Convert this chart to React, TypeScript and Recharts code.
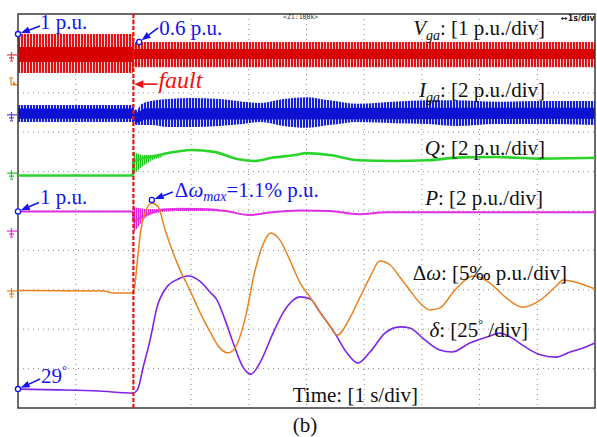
import React from 'react';
import {
  ComposedChart,
  Line,
  Area,
  XAxis,
  YAxis,
  CartesianGrid,
  ReferenceLine,
  ReferenceArea,
  ReferenceDot,
} from 'recharts';

// Scope screen: x in seconds (1 s/div), y in divisions counted from the bottom edge.
const GRID_X = [1, 2, 3, 4, 5, 6, 7, 8, 9];
const GRID_Y = [1, 2, 3, 4, 5, 6, 7, 8, 9];
const FAULT_T = 2;

// V_ga envelope (dense 50 Hz sine shown as a band)
const VGA_T = [0, 1.99, 2.0, 10];
const VGA_HI = [9.49, 9.49, 9.29, 9.29];
const VGA_LO = [8.5, 8.5, 8.65, 8.65];
const VGA_CORE_HI = [9.16, 9.16, 9.11, 9.11];
const VGA_CORE_LO = [8.78, 8.78, 8.86, 8.86];

// I_ga envelope
const IGA_T = [0, 1.99, 2.05, 2.15, 2.3, 2.6, 3.0, 3.5, 3.9, 4.2, 4.6, 5.0, 5.4, 5.9, 6.5, 7.1, 7.6, 8.3, 9.0, 10];
const IGA_HI = [7.69, 7.69, 7.56, 7.72, 7.79, 7.84, 7.87, 7.84, 7.77, 7.74, 7.84, 7.89, 7.81, 7.72, 7.77, 7.81, 7.81, 7.77, 7.79, 7.79];
const IGA_LO = [7.26, 7.26, 7.18, 7.18, 7.18, 7.13, 7.13, 7.16, 7.21, 7.26, 7.16, 7.11, 7.18, 7.26, 7.23, 7.21, 7.16, 7.21, 7.21, 7.18];
const IGA_CORE_T = [0, 1.99, 2.05, 2.2, 10];
const IGA_CORE_HI = [7.6, 7.6, 7.49, 7.61, 7.62];
const IGA_CORE_LO = [7.34, 7.34, 7.23, 7.32, 7.34];

// Q
const Q_T = [0, 1.99, 2.0, 2.1, 2.3, 2.6, 3.0, 3.4, 3.8, 4.1, 4.4, 4.8, 5.0, 5.4, 5.9, 6.5, 7.1, 7.7, 8.3, 9.0, 10];
const Q_V = [5.9, 5.9, 6.24, 6.32, 6.37, 6.47, 6.55, 6.5, 6.32, 6.27, 6.35, 6.42, 6.47, 6.42, 6.29, 6.27, 6.29, 6.36, 6.37, 6.33, 6.35];
const Q_OSC_T = [2.0, 2.05, 2.15, 2.3, 2.5];
const Q_OSC_LO = [5.94, 5.99, 6.12, 6.27, 6.37];
const Q_OSC_HI = [6.5, 6.47, 6.42, 6.42, 6.45];

// P
const P_T = [0, 1.99, 2.0, 2.1, 2.25, 2.5, 3.0, 3.6, 4.0, 4.4, 4.9, 5.4, 5.9, 6.4, 7.0, 8.0, 9.0, 10];
const P_V = [4.99, 4.99, 4.72, 4.82, 4.92, 5.03, 5.05, 5.0, 4.9, 4.97, 5.01, 5.0, 4.92, 4.97, 4.97, 4.97, 4.97, 4.97];
const P_OSC_T = [2.0, 2.07, 2.2, 2.4, 2.8, 3.5];
const P_OSC_LO = [4.47, 4.57, 4.82, 4.95, 5.0, 5.0];
const P_OSC_HI = [5.1, 5.08, 5.05, 5.05, 5.08, 5.05];

// Δω
const DW_T = [0, 1.5, 1.65, 1.99, 2.03, 2.07, 2.13, 2.2, 2.32, 2.43, 2.55, 2.67, 2.81, 2.98, 3.15, 3.33, 3.5, 3.64, 3.76, 3.93, 4.11, 4.28, 4.38, 4.54, 4.71, 4.89, 5.06, 5.23, 5.41, 5.53, 5.75, 5.93, 6.1, 6.27, 6.45, 6.62, 6.79, 6.97, 7.14, 7.31, 7.57, 7.89, 8.18, 8.44, 8.75, 9.05, 9.31, 9.45, 9.65, 10];
const DW_V = [2.98, 2.97, 2.92, 2.92, 3.17, 3.76, 4.52, 4.95, 5.2, 5.1, 4.52, 4.01, 3.5, 2.99, 2.44, 1.93, 1.52, 1.4, 1.52, 2.23, 3.5, 4.26, 4.44, 4.26, 3.76, 3.17, 2.82, 2.44, 2.08, 1.85, 2.28, 2.82, 3.32, 3.73, 3.63, 3.32, 2.99, 2.66, 2.49, 2.54, 2.99, 3.35, 3.17, 2.82, 2.56, 2.74, 3.07, 3.25, 3.2, 3.02];

// δ
const D_T = [0, 0.7, 1.4, 1.99, 2.07, 2.17, 2.29, 2.41, 2.58, 2.77, 2.95, 3.15, 3.33, 3.45, 3.59, 3.73, 3.88, 4.04, 4.19, 4.42, 4.59, 4.77, 4.89, 5.06, 5.23, 5.49, 5.7, 5.89, 6.1, 6.36, 6.62, 6.79, 7.05, 7.31, 7.52, 7.83, 8.18, 8.35, 8.53, 8.79, 9.05, 9.31, 9.57, 9.84, 10];
const D_V = [0.48, 0.46, 0.43, 0.38, 0.46, 1.04, 1.73, 2.56, 3.07, 3.27, 3.35, 3.22, 2.94, 2.74, 2.23, 1.65, 1.09, 0.86, 1.14, 1.9, 2.41, 2.74, 2.82, 2.77, 2.44, 1.9, 1.4, 1.14, 1.42, 1.9, 2.06, 2.03, 1.73, 1.47, 1.42, 1.65, 1.83, 1.9, 1.8, 1.55, 1.35, 1.29, 1.42, 1.55, 1.65];

// channel ground markers on the left edge (divisions)
const GROUND_LEVELS = [8.91, 7.39, 5.91, 4.44, 2.92];
const GROUND_COLORS = ['#e04040', '#5a40e0', '#30c030', '#e030e0', '#e8831f'];
const TRIGGER_LEVEL = 8.25;

const RED = '#d80000';
const BLUE = '#0b12d2';
const GREEN = '#2bd42b';
const MAGENTA = '#e22ee2';
const ORANGE = '#e8831f';
const PURPLE = '#7f25e6';
const NOTE = '#1414ee';
const FAULT = '#ee1111';
const SERIF = '"Liberation Serif", "Times New Roman", serif';

const bandRows = (t: number[], lo: number[], hi: number[]) =>
  t.map((x, i) => ({ t: x, band: [lo[i], hi[i]] }));
const lineRows = (t: number[], v: number[]) => t.map((x, i) => ({ t: x, v: v[i] }));

function Arrow({ x1, y1, x2, y2, color, head = 9, half = 3.5 }: any) {
  const dx = x2 - x1;
  const dy = y2 - y1;
  const len = Math.hypot(dx, dy) || 1;
  const ux = dx / len;
  const uy = dy / len;
  const bx = x2 - ux * head;
  const by = y2 - uy * head;
  const px = -uy * half;
  const py = ux * half;
  return (
    <g>
      <line x1={x1} y1={y1} x2={bx} y2={by} stroke={color} strokeWidth={1.6} />
      <polygon points={`${x2},${y2} ${bx + px},${by + py} ${bx - px},${by - py}`} fill={color} />
    </g>
  );
}

// circle on the trace, arrow from the text towards it
const callout = (tail: [number, number], textAt: [number, number], content: React.ReactNode) =>
  (p: any) => {
    const { cx, cy } = p;
    const tx = cx + tail[0];
    const ty = cy + tail[1];
    const len = Math.hypot(tail[0], tail[1]);
    return (
      <g>
        <Arrow x1={tx} y1={ty} x2={cx + (tail[0] / len) * 3} y2={cy + (tail[1] / len) * 3} color={NOTE} />
        <circle cx={cx} cy={cy} r={2.6} fill="#fff" stroke={NOTE} strokeWidth={1.3} />
        <text x={cx + textAt[0]} y={cy + textAt[1]} fill={NOTE} fontFamily={SERIF} fontSize={21}>
          {content}
        </text>
      </g>
    );
  };

const groundShape = (color: string) => (p: any) => {
  const { cx, cy } = p;
  return (
    <g stroke={color} strokeWidth={1.2} fill="none">
      <line x1={cx - 11} y1={cy - 2} x2={cx - 1} y2={cy - 2} />
      <line x1={cx - 6.5} y1={cy - 5} x2={cx - 6.5} y2={cy + 3} />
      <line x1={cx - 9} y1={cy + 1} x2={cx - 4} y2={cy + 1} />
      <line x1={cx - 8} y1={cy + 4} x2={cx - 5} y2={cy + 4} />
    </g>
  );
};

const triggerShape = (p: any) => {
  const { cx, cy } = p;
  return (
    <g stroke={ORANGE} fill={ORANGE} strokeWidth={1.2}>
      <line x1={cx - 7} y1={cy - 5} x2={cx - 7} y2={cy + 2} />
      <line x1={cx - 9} y1={cy - 5} x2={cx - 5} y2={cy - 5} />
      <line x1={cx - 7} y1={cy + 2} x2={cx - 1} y2={cy + 2} />
      <polygon points={`${cx - 5},${cy - 2} ${cx - 1},${cy + 2} ${cx - 5},${cy + 2}`} stroke="none" />
    </g>
  );
};

const faultShape = (p: any) => {
  const { cx, cy } = p;
  return (
    <g>
      <Arrow x1={cx + 24} y1={cy} x2={cx + 1} y2={cy} color={FAULT} head={9} half={4} />
      <text x={cx + 25} y={cy + 4} fill={FAULT} fontFamily={SERIF} fontStyle="italic" fontSize={24}>
        fault
      </text>
    </g>
  );
};

function ScopeLabels() {
  const base = { fontFamily: SERIF, fontSize: 21, fill: '#111', textAnchor: 'end' as const };
  return (
    <svg width={597} height={437} style={{ position: 'absolute', left: 0, top: 0, pointerEvents: 'none' }}>
      <text {...base} x={545} y={35}>
        <tspan fontStyle="italic">V</tspan>
        <tspan fontStyle="italic" fontSize={14} dy={5}>ga</tspan>
        <tspan dy={-5}>: [1 p.u./div]</tspan>
      </text>
      <text {...base} x={545} y={97}>
        <tspan fontStyle="italic">I</tspan>
        <tspan fontStyle="italic" fontSize={14} dy={5}>ga</tspan>
        <tspan dy={-5}>: [2 p.u./div]</tspan>
      </text>
      <text {...base} x={545} y={155}>
        <tspan fontStyle="italic">Q</tspan>
        <tspan>: [2 p.u./div]</tspan>
      </text>
      <text {...base} x={543} y={205}>
        <tspan fontStyle="italic">P</tspan>
        <tspan>: [2 p.u./div]</tspan>
      </text>
      <text {...base} x={567} y={280}>
        <tspan>Δ</tspan>
        <tspan fontStyle="italic">ω</tspan>
        <tspan>: [5‰ p.u./div]</tspan>
      </text>
      <text {...base} x={528} y={337}>
        <tspan fontStyle="italic">δ</tspan>
        <tspan>: [25</tspan>
        <tspan fontSize={12} dy={-9}>°</tspan>
        <tspan dy={9}> /div]</tspan>
      </text>
      <text {...base} x={418} y={402}>Time: [1 s/div]</text>
      <text {...base} textAnchor="middle" x={305} y={432}>(b)</text>
      <text x={283} y={19} fontFamily="DejaVu Sans Mono, monospace" fontSize={6.5} fill="#333">
        {'<Z1:100k>'}
      </text>
      <text x={561} y={21} fontFamily="DejaVu Sans, sans-serif" fontSize={8} fontWeight="bold" fill="#222">
        ↔1s/div
      </text>
    </svg>
  );
}

export default function App() {
  const vga = bandRows(VGA_T, VGA_LO, VGA_HI);
  const vgaCore = bandRows(VGA_T, VGA_CORE_LO, VGA_CORE_HI);
  const iga = bandRows(IGA_T, IGA_LO, IGA_HI);
  const igaCore = bandRows(IGA_CORE_T, IGA_CORE_LO, IGA_CORE_HI);
  const qOsc = bandRows(Q_OSC_T, Q_OSC_LO, Q_OSC_HI);
  const pOsc = bandRows(P_OSC_T, P_OSC_LO, P_OSC_HI);

  return (
    <div style={{ position: 'absolute', left: 0, top: 0, width: 597, height: 437, background: '#fff' }}>
      <ComposedChart width={597} height={437} margin={{ top: 14, right: 2, bottom: 29, left: 18 }}>
        <defs>
          <pattern id="redStripe" width="3" height="6" patternUnits="userSpaceOnUse">
            <rect width="3" height="6" fill="#f8d0d0" />
            <rect width="2" height="6" fill="#e01414" />
          </pattern>
          <pattern id="blueStripe" width="3" height="6" patternUnits="userSpaceOnUse">
            <rect width="3" height="6" fill="#d6daff" />
            <rect width="2" height="6" fill="#1420d8" />
          </pattern>
          <pattern id="greenStripe" width="2" height="6" patternUnits="userSpaceOnUse">
            <rect width="2" height="6" fill="#c8f5c8" />
            <rect width="1.2" height="6" fill="#1cc41c" />
          </pattern>
          <pattern id="magentaStripe" width="2" height="6" patternUnits="userSpaceOnUse">
            <rect width="2" height="6" fill="#f8c8f8" />
            <rect width="1.2" height="6" fill="#e020e0" />
          </pattern>
        </defs>
        <XAxis dataKey="t" type="number" domain={[0, 10]} hide allowDuplicatedCategory={false} />
        <YAxis type="number" domain={[0, 10]} hide />
        <CartesianGrid
          horizontalValues={GRID_Y}
          verticalValues={GRID_X}
          stroke="#8a8a8a"
          strokeDasharray="1 4"
          strokeWidth={1}
        />

        <Area data={vga} dataKey="band" type="linear" stroke="none" fill="url(#redStripe)" fillOpacity={1} isAnimationActive={false} activeDot={false} />
        <Area data={vgaCore} dataKey="band" type="linear" stroke="none" fill={RED} fillOpacity={1} isAnimationActive={false} activeDot={false} />
        <Area data={iga} dataKey="band" type="monotone" stroke="none" fill="url(#blueStripe)" fillOpacity={1} isAnimationActive={false} activeDot={false} />
        <Area data={igaCore} dataKey="band" type="linear" stroke="none" fill={BLUE} fillOpacity={1} isAnimationActive={false} activeDot={false} />

        <Area data={qOsc} dataKey="band" type="monotone" stroke="none" fill="url(#greenStripe)" fillOpacity={1} isAnimationActive={false} activeDot={false} />
        <Line data={lineRows(Q_T, Q_V)} dataKey="v" type="monotone" stroke={GREEN} strokeWidth={2.6} dot={false} isAnimationActive={false} />

        <Area data={pOsc} dataKey="band" type="monotone" stroke="none" fill="url(#magentaStripe)" fillOpacity={1} isAnimationActive={false} activeDot={false} />
        <Line data={lineRows(P_T, P_V)} dataKey="v" type="monotone" stroke={MAGENTA} strokeWidth={2} dot={false} isAnimationActive={false} />

        <Line data={lineRows(D_T, D_V)} dataKey="v" type="monotone" stroke={PURPLE} strokeWidth={1.6} dot={false} isAnimationActive={false} />
        <Line data={lineRows(DW_T, DW_V)} dataKey="v" type="monotone" stroke={ORANGE} strokeWidth={1.5} dot={false} isAnimationActive={false} />

        <ReferenceArea x1={0} x2={10} y1={0} y2={10} fill="none" stroke="#3a3a3a" strokeWidth={1.5} ifOverflow="visible" />
        <ReferenceLine x={FAULT_T} stroke={FAULT} strokeWidth={2.2} strokeDasharray="4 2" />

        {GROUND_LEVELS.map((lv, i) => (
          <ReferenceDot key={i} x={0} y={lv} ifOverflow="visible" shape={groundShape(GROUND_COLORS[i])} />
        ))}
        <ReferenceDot x={0} y={TRIGGER_LEVEL} ifOverflow="visible" shape={triggerShape} />

        <ReferenceDot x={FAULT_T} y={8.22} ifOverflow="visible" shape={faultShape} />

        <ReferenceDot x={0} y={9.49} ifOverflow="visible" shape={callout([22, -8], [22, -5], '1 p.u.')} />
        <ReferenceDot x={2.1} y={9.29} ifOverflow="visible" shape={callout([19, -14], [20, -7], '0.6 p.u.')} />
        <ReferenceDot x={0} y={4.99} ifOverflow="visible" shape={callout([21, -9], [22, -7], '1 p.u.')} />
        <ReferenceDot
          x={2.32}
          y={5.28}
          ifOverflow="visible"
          shape={callout([21, -8], [23, -3], (
            <>
              <tspan>Δ</tspan>
              <tspan fontStyle="italic">ω</tspan>
              <tspan fontStyle="italic" fontSize={14} dy={4}>max</tspan>
              <tspan dy={-4}>=1.1% p.u.</tspan>
            </>
          ))}
        />
        <ReferenceDot
          x={0}
          y={0.48}
          ifOverflow="visible"
          shape={callout([22, -10], [23, -6], (
            <>
              <tspan>29</tspan>
              <tspan fontSize={12} dy={-9}>°</tspan>
            </>
          ))}
        />
      </ComposedChart>
      <ScopeLabels />
    </div>
  );
}
